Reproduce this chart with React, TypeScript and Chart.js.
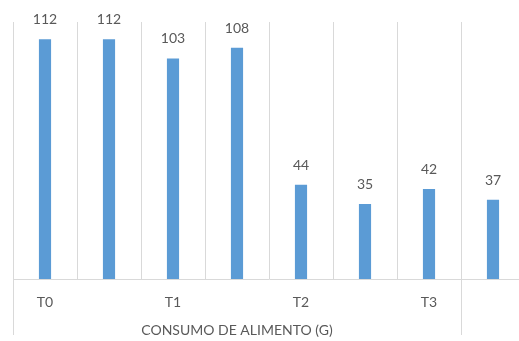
import React, { useEffect, useRef } from "react";
import { Chart, registerables } from "chart.js";

Chart.register(...registerables);

const categories = ["T0", "", "T1", "", "T2", "", "T3", ""];
const values = [112, 112, 103, 108, 44, 35, 42, 37];
const groupTitle = "CONSUMO DE ALIMENTO (G)";
const groupEndIndex = 6; // last category covered by the group title

const FONT = "Lato, 'Liberation Sans', sans-serif";
const TEXT = "#595959";
const GRID = "#d9d9d9";

const overlay = {
  id: "overlay",
  afterDatasetsDraw(chart: any) {
    const ctx = chart.ctx;
    const meta = chart.getDatasetMeta(0);
    ctx.save();
    ctx.fillStyle = TEXT;
    ctx.font = `14px ${FONT}`;
    ctx.textAlign = "center";
    ctx.textBaseline = "alphabetic";
    meta.data.forEach((bar: any, i: number) => {
      ctx.fillText(String(values[i]), bar.x, bar.y - 15);
    });
    const x = chart.scales.x;
    const bottom = chart.chartArea.bottom;
    const left = x.left;
    const sep = (x.getPixelForValue(groupEndIndex) + x.getPixelForValue(groupEndIndex + 1)) / 2;
    ctx.strokeStyle = GRID;
    ctx.lineWidth = 1;
    ctx.beginPath();
    ctx.moveTo(Math.round(left) + 0.5, bottom);
    ctx.lineTo(Math.round(left) + 0.5, bottom + 56);
    ctx.moveTo(Math.round(sep) + 0.5, bottom);
    ctx.lineTo(Math.round(sep) + 0.5, bottom + 56);
    ctx.stroke();
    ctx.textBaseline = "middle";
    ctx.fillText(groupTitle, (left + sep) / 2, bottom + 51);
    ctx.restore();
  },
};

export default function App() {
  const ref = useRef<HTMLCanvasElement>(null);
  useEffect(() => {
    const chart = new Chart(ref.current!, {
      type: "bar",
      data: {
        labels: categories,
        datasets: [
          {
            data: values,
            backgroundColor: "#5b9bd5",
            barPercentage: 0.19,
            categoryPercentage: 1,
          },
        ],
      },
      options: {
        animation: false,
        responsive: true,
        maintainAspectRatio: false,
        layout: { padding: { left: 13, top: 22, right: 15, bottom: 0 } },
        plugins: { legend: { display: false }, tooltip: { enabled: false } },
        scales: {
          x: {
            offset: true,
            grid: { display: true, color: GRID, drawTicks: false, offset: true },
            border: { display: true, color: GRID },
            ticks: {
              color: TEXT,
              font: { family: FONT, size: 14 },
              padding: 15,
              autoSkip: false,
              maxRotation: 0,
            },
            afterFit: (scale: any) => {
              scale.height = 62;
            },
          },
          y: { display: false, min: 0, max: 120 },
        },
      },
      plugins: [overlay],
    });
    return () => chart.destroy();
  }, []);
  return (
    <div style={{ position: "fixed", left: 0, top: 0, width: 519, height: 341, overflow: "hidden", background: "#fff" }}>
      <div style={{ position: "relative", width: 540, height: 341 }}>
        <canvas ref={ref} />
      </div>
    </div>
  );
}
